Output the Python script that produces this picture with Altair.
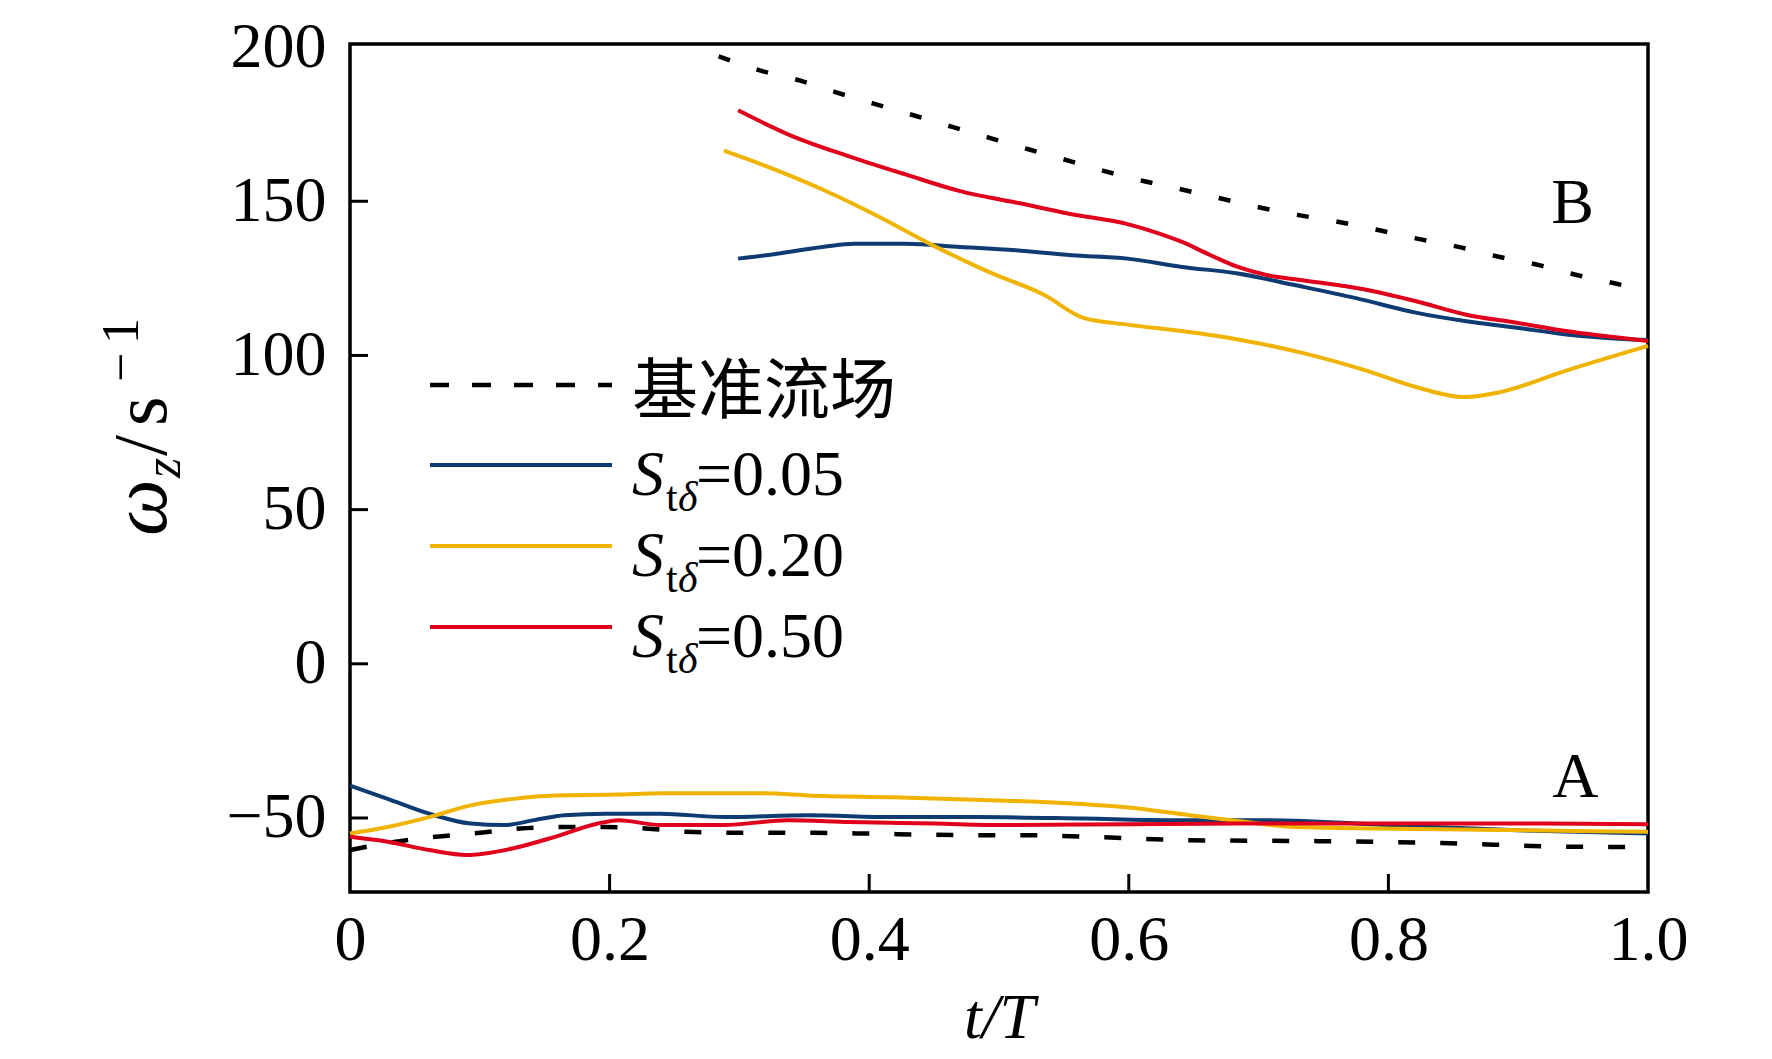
import altair as alt
import pandas as pd

# ---- data ----
# upper branch (B)
base_B_t = [0.284, 0.317, 0.347, 0.374, 0.404, 0.434, 0.464, 0.494, 0.524, 0.554, 0.582, 0.612,
            0.641, 0.671, 0.701, 0.731, 0.763, 0.794, 0.823, 0.854, 0.885, 0.916, 0.945, 0.974, 1.0]
base_B_w = [197.0, 192.3, 189.1, 185.4, 181.6, 177.9, 174.1, 170.4, 166.7, 163.1, 159.7, 156.5,
            153.8, 150.9, 148.0, 145.5, 143.2, 140.5, 137.8, 135.2, 132.0, 129.3, 126.1, 123.4, 120.9]

s005_B_t = [0.299, 0.329, 0.364, 0.389, 0.428, 0.470, 0.513, 0.556, 0.599, 0.641, 0.684, 0.727,
            0.775, 0.822, 0.860, 0.899, 0.937, 0.988, 1.0]
s005_B_w = [131.4, 133.0, 135.2, 136.2, 136.2, 135.2, 134.1, 132.5, 131.4, 128.7, 126.6, 122.9,
            118.6, 113.8, 111.1, 109.0, 106.8, 105.2, 105.0]

s020_B_t = [0.288, 0.321, 0.364, 0.406, 0.449, 0.492, 0.535, 0.565, 0.599, 0.641, 0.684, 0.732,
            0.783, 0.822, 0.858, 0.886, 0.937, 1.0]
s020_B_w = [166.4, 161.3, 153.8, 145.3, 135.7, 127.1, 119.6, 112.2, 110.0, 107.9, 105.2, 101.0,
            95.1, 89.7, 86.5, 88.1, 95.1, 103.1]

s050_B_t = [0.299, 0.342, 0.385, 0.428, 0.470, 0.513, 0.556, 0.599, 0.620, 0.641, 0.663, 0.684,
            0.706, 0.732, 0.783, 0.822, 0.860, 0.899, 0.937, 1.0]
s050_B_w = [179.5, 170.9, 164.5, 158.7, 153.3, 149.6, 145.8, 142.6, 140.0, 136.8, 132.5, 128.7,
            126.1, 124.5, 121.3, 117.5, 113.2, 110.6, 107.9, 104.7]

# lower branch (A)
base_A_t = [0.0, 0.035, 0.066, 0.100, 0.131, 0.163, 0.196, 0.228, 0.260, 0.293, 0.358, 0.390,
            0.486, 0.517, 0.647, 0.744, 0.841, 0.938, 1.0]
base_A_w = [-60.4, -57.7, -56.1, -54.8, -53.4, -52.9, -52.9, -53.4, -54.5, -54.8, -54.8, -55.0,
            -55.6, -55.6, -57.2, -57.5, -58.1, -59.3, -59.4]

s005_A_t = [0.0, 0.029, 0.061, 0.093, 0.119, 0.142, 0.165, 0.197, 0.239, 0.288, 0.353, 0.418,
            0.482, 0.566, 0.630, 0.708, 0.800, 0.900, 1.0]
s005_A_w = [-39.5, -43.8, -48.6, -51.8, -52.3, -50.7, -49.1, -48.6, -48.6, -49.7, -49.1, -49.7,
            -49.7, -50.2, -50.7, -50.7, -52.3, -54.0, -55.0]

s020_A_t = [0.0, 0.029, 0.061, 0.093, 0.126, 0.158, 0.207, 0.239, 0.320, 0.353, 0.418, 0.500,
            0.549, 0.598, 0.647, 0.679, 0.728, 0.891, 1.0]
s020_A_w = [-55.0, -52.9, -49.7, -45.9, -43.8, -42.7, -42.4, -42.0, -42.0, -42.7, -43.3, -44.3,
            -45.1, -46.5, -49.1, -50.7, -52.9, -53.9, -54.5]

s050_A_t = [0.0, 0.029, 0.061, 0.090, 0.126, 0.158, 0.191, 0.207, 0.239, 0.288, 0.337, 0.385,
            0.450, 0.504, 0.600, 0.700, 0.800, 0.900, 1.0]
s050_A_w = [-56.1, -57.7, -60.4, -62.0, -59.8, -56.1, -51.8, -50.7, -52.3, -52.3, -50.7, -51.3,
            -51.8, -52.3, -52.0, -51.8, -51.8, -51.8, -52.0]

x_ticks = [0.2, 0.4, 0.6, 0.8]
y_ticks = [-50, 0, 50, 100, 150]

legend_labels = ["基准流场", "=0.05", "=0.20", "=0.50"]
colors = ["#000000", "#0d3b72", "#f0b400", "#e0001b"]

W, H = 1298, 848
TOP = 36
SERIF = "Liberation Serif"
FS = 64

xs = alt.Scale(domain=[0, 1], nice=False)
ys = alt.Scale(domain=[-74, 201], nice=False)


def curve(t, w, color, dash=None):
    df = pd.DataFrame({"t": t, "w": w})
    kw = dict(strokeWidth=4, color=color, interpolate="monotone")
    if dash:
        kw["strokeDash"] = dash
        kw["strokeWidth"] = 4.5
    return alt.Chart(df).mark_line(**kw).encode(
        x=alt.X("t:Q", scale=xs, axis=alt.Axis(
            values=[0, 0.2, 0.4, 0.6, 0.8, 1.0], labelExpr="datum.value == 0 ? '0' : format(datum.value, '.1f')",
            ticks=False, domain=False, grid=False, labelFont=SERIF, labelFontSize=FS, labelColor="black",
            labelPadding=16, title="t/T", titleFont=SERIF, titleFontSize=FS, titleFontStyle="italic",
            titleFontWeight="normal", titleColor="black", titlePadding=14, labelFlush=False)),
        y=alt.Y("w:Q", scale=ys, axis=alt.Axis(
            values=[-50, 0, 50, 100, 150, 200], labelExpr="replace(datum.label, '-', '\u2212')",
            ticks=False, domain=False, grid=False, labelFont=SERIF, labelFontSize=FS, labelColor="black",
            labelPadding=24, title=None, labelFlush=False)),
    )


layers = [
    curve(base_B_t, base_B_w, colors[0], [12, 28]),
    curve(base_A_t, base_A_w, colors[0], [17, 25]),
    curve(s005_B_t, s005_B_w, colors[1]),
    curve(s005_A_t, s005_A_w, colors[1]),
    curve(s020_B_t, s020_B_w, colors[2]),
    curve(s020_A_t, s020_A_w, colors[2]),
    curve(s050_B_t, s050_B_w, colors[3]),
    curve(s050_A_t, s050_A_w, colors[3]),
]

# inward ticks
xt = alt.Chart(pd.DataFrame({"t": x_ticks})).mark_rule(color="black", strokeWidth=3).encode(
    x=alt.X("t:Q", scale=xs), y=alt.value(H), y2=alt.value(H - 18))
yt = alt.Chart(pd.DataFrame({"w": y_ticks})).mark_rule(color="black", strokeWidth=3).encode(
    y=alt.Y("w:Q", scale=ys), x=alt.value(0), x2=alt.value(18))
layers += [xt, yt]

# branch labels
lab = alt.Chart(pd.DataFrame({"t": [0.942, 0.944], "w": [149, -37], "s": ["B", "A"]})).mark_text(
    font=SERIF, fontSize=FS, color="black").encode(
    x=alt.X("t:Q", scale=xs), y=alt.Y("w:Q", scale=ys), text="s:N")
layers.append(lab)

# legend
row_y = [341, 421, 502, 583]
for i, yy in enumerate(row_y):
    rule = alt.Chart(pd.DataFrame({"k": [i]})).mark_rule(
        color=colors[i], strokeWidth=4.5 if i == 0 else 4,
        strokeDash=[19, 23] if i == 0 else [1, 0]).encode(
        x=alt.value(80), x2=alt.value(262), y=alt.value(yy))
    layers.append(rule)
    if i == 0:
        layers.append(alt.Chart(pd.DataFrame({"s": [legend_labels[0]]})).mark_text(
            font="Noto Sans CJK SC", fontSize=66, align="left", baseline="alphabetic", color="black").encode(
            x=alt.value(282), y=alt.value(yy + 28), text="s:N"))
    else:
        base = yy + 30
        layers.append(alt.Chart(pd.DataFrame({"s": ["S"]})).mark_text(
            font=SERIF, fontSize=FS, fontStyle="italic", align="left", baseline="alphabetic", color="black").encode(
            x=alt.value(282), y=alt.value(base), text="s:N"))
        layers.append(alt.Chart(pd.DataFrame({"s": ["t"]})).mark_text(
            font=SERIF, fontSize=42, align="left", baseline="alphabetic", color="black").encode(
            x=alt.value(316), y=alt.value(base + 16), text="s:N"))
        layers.append(alt.Chart(pd.DataFrame({"s": ["δ"]})).mark_text(
            font=SERIF, fontSize=42, fontStyle="italic", align="left", baseline="alphabetic", color="black").encode(
            x=alt.value(328), y=alt.value(base + 16), text="s:N"))
        layers.append(alt.Chart(pd.DataFrame({"s": [legend_labels[i]]})).mark_text(
            font=SERIF, fontSize=FS, align="left", baseline="alphabetic", color="black").encode(
            x=alt.value(346), y=alt.value(base), text="s:N"))

# y axis title  omega_z / s^-1  (rotated)
ytitle = [
    ("ω", -184, 492, 80, "italic"),
    ("z", -170, 434, 52, "italic"),
    ("/", -184, 412, 76, "normal"),
    ("s", -184, 382, 76, "normal"),
    ("\u2212", -212, 338, 52, "normal"),
    ("1", -212, 300, 52, "normal"),
]
for s, xx, yy, fs, st in ytitle:
    layers.append(alt.Chart(pd.DataFrame({"s": [s]})).mark_text(
        font=SERIF, fontSize=fs, fontStyle=st, angle=270, align="left", baseline="alphabetic",
        color="black").encode(x=alt.value(xx), y=alt.value(yy), text="s:N"))

chart = alt.layer(*layers).properties(
    width=W, height=H,
    autosize=alt.AutoSizeParams(type="none"),
    padding={"left": 342, "top": TOP, "right": 100, "bottom": 158},
).configure_view(stroke="black", strokeWidth=3.5)

chart.save("out.html", embed_options={"renderer": "svg", "actions": False})
